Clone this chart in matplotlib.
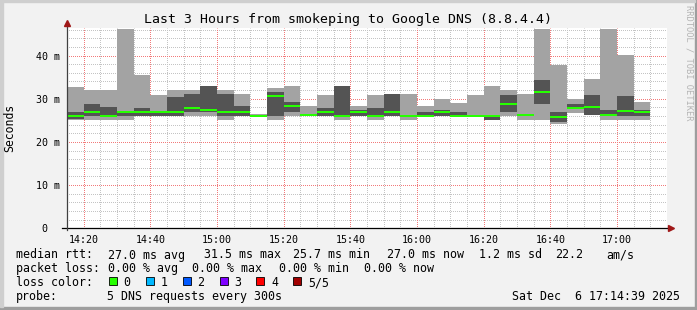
import matplotlib
matplotlib.use("Agg")
import matplotlib.pyplot as plt
from matplotlib.patches import Rectangle
import numpy as np

W, H = 697, 310

# smokeping samples, 5 pings every 5 minutes, starting 14:15 (ms)
p_min = [25.1, 25.1, 25.1, 25.1, 26.0, 26.0, 26.0, 26.0, 26.0, 25.1, 26.0, 25.7,
         25.1, 26.0, 26.0, 26.0, 25.1, 26.0, 25.1, 26.0, 25.1, 26.0, 26.0, 26.0,
         25.9, 25.0, 26.0, 25.1, 25.1, 24.1, 26.8, 26.2, 25.1, 25.1, 25.1]
p_lo = [25.3, 26.0, 25.9, 26.0, 26.0, 26.0, 26.0, 26.9, 26.9, 26.0, 26.0, 25.9,
        26.0, 26.9, 26.0, 26.0, 25.8, 26.0, 25.9, 26.0, 25.9, 26.0, 26.0, 26.0,
        25.9, 25.0, 26.9, 26.2, 28.8, 24.6, 27.6, 26.2, 26.0, 26.0, 26.0]
median = [26.0, 27.0, 26.0, 26.9, 26.9, 26.9, 26.9, 27.8, 27.3, 26.9, 26.9, 26.0,
          30.6, 28.3, 26.3, 26.9, 26.0, 26.9, 26.0, 27.0, 26.0, 26.0, 27.0, 26.0,
          26.0, 25.9, 28.8, 26.3, 31.5, 25.7, 27.9, 28.1, 26.3, 27.1, 27.0]
p_hi = [26.9, 28.8, 28.1, 27.1, 27.8, 27.1, 30.5, 31.1, 32.9, 31.1, 28.2, 26.2,
        31.5, 29.2, 26.5, 27.8, 32.9, 27.3, 27.8, 31.0, 26.2, 26.9, 27.4, 26.9,
        26.3, 26.1, 30.8, 26.5, 34.3, 26.9, 28.8, 30.8, 27.4, 30.6, 27.4]
p_max = [32.7, 32.1, 32.1, 46.1, 35.5, 30.9, 32.0, 32.0, 33.0, 32.0, 31.1, 26.4,
         32.5, 32.9, 28.2, 30.8, 33.0, 28.2, 30.8, 31.0, 31.1, 28.3, 29.9, 29.0,
         30.8, 32.9, 32.0, 31.1, 46.1, 37.9, 29.9, 34.6, 46.1, 40.1, 29.2]

time_ticks = ["14:20", "14:40", "15:00", "15:20", "15:40", "16:00", "16:20", "16:40", "17:00"]
y_ticks = [0, 10, 20, 30, 40]
y_labels = ["0  ", "10 m", "20 m", "30 m", "40 m"]

loss_labels = ["0", "1", "2", "3", "4", "5/5"]
loss_colors = ["#26ff00", "#00b8ff", "#0059ff", "#7e00ff", "#ff0000", "#a10000"]

MONO = "DejaVu Sans Mono"


def fx(px):
    return px / W


def fy(py):
    return 1 - py / H


fig = plt.figure(figsize=(W / 100, H / 100), dpi=100, facecolor="#f2f2f2")

# 3d-ish frame around the canvas
fig.patches.append(Rectangle((0, 0), 1, 3 / H, transform=fig.transFigure, color="#9e9e9e"))
fig.patches.append(Rectangle((1 - 2 / W, 0), 2 / W, 1, transform=fig.transFigure, color="#9e9e9e"))
fig.patches.append(Rectangle((0, 1 - 2 / H), 1 - 2 / W, 2 / H, transform=fig.transFigure, color="#cfcfcf"))
fig.patches.append(Rectangle((0, 3 / H), 3 / W, 1, transform=fig.transFigure, color="#cfcfcf"))

ax = fig.add_axes([fx(67), fy(228.3), 600 / W, 200 / H])
ax.set_facecolor("white")
ax.set_xlim(0, 180)
ax.set_ylim(0, 46.3)
for s in ax.spines.values():
    s.set_visible(False)

# dotted grid like rrdtool (1 px on, 1 px off)
dots = (0.5, (1, 1))
minor_x = [m for m in range(5, 180, 5) if (m - 5) % 20]
major_x = [5 + 20 * i for i in range(len(time_ticks))]
minor_y = [v for v in range(2, 47, 2) if v % 10]
grid_kw = dict(linewidth=0.72, linestyle=dots, snap=True)
for m in minor_x:
    ax.axvline(m, color="#c4c4c4", zorder=1, **grid_kw)
for v in minor_y:
    ax.axhline(v, color="#c4c4c4", zorder=1, **grid_kw)
for m in major_x:
    ax.axvline(m, color="#f27a7a", zorder=1.5, **grid_kw)
for v in y_ticks[1:]:
    ax.axhline(v, color="#f27a7a", zorder=1.5, **grid_kw)

x = np.arange(len(median)) * 5
med = np.array(median)
ax.bar(x, np.array(p_max) - np.array(p_min), bottom=p_min, width=5, align="edge",
       color="#a3a3a3", linewidth=0, zorder=2)
ax.bar(x, np.array(p_hi) - np.array(p_lo), bottom=p_lo, width=5, align="edge",
       color="#545454", linewidth=0, zorder=3)
ax.bar(x, 0.46, bottom=med - 0.23, width=5, align="edge",
       color=loss_colors[0], linewidth=0, zorder=4)

ax.set_xticks(major_x)
ax.set_xticklabels(time_ticks)
ax.set_yticks(y_ticks)
ax.set_yticklabels(y_labels)
ax.tick_params(which="both", length=0)
ax.tick_params(axis="x", pad=4.5)
ax.tick_params(axis="y", pad=5)
for lab in ax.get_xticklabels() + ax.get_yticklabels():
    lab.set_fontfamily(MONO)
    lab.set_fontsize(7.2)

# axes with arrows
ax.plot([-1.5, 181.0], [0, 0], color="black", lw=0.9, clip_on=False, zorder=6)
ax.plot([0, 0], [-0.4, 47.3], color="#404040", lw=0.9, clip_on=False, zorder=6)
ax.plot([181.2], [0], marker=">", color="#a01818", markersize=4, clip_on=False, zorder=7)
ax.plot([0], [47.5], marker="^", color="#a01818", markersize=4, clip_on=False, zorder=7)

# texts
fig.text(fx(347.5), fy(19), "Last 3 Hours from smokeping to Google DNS (8.8.4.4)",
         family=MONO, fontsize=9.5, ha="center", va="center")
fig.text(fx(10), fy(128), "Seconds", family=MONO, fontsize=8.3, rotation=90,
         ha="center", va="center")
fig.text(fx(688.5), fy(5), "RRDTOOL / TOBI OETIKER", family=MONO, fontsize=6.3,
         rotation=270, ha="center", va="top", color="#b4b4b4")

fs = 8.4
rows = [
    (258.5, [(16, "median rtt:"), (107.6, "27.0 ms avg"), (203.6, "31.5 ms max"),
             (293, "25.7 ms min"), (386.7, "27.0 ms now"), (479, "1.2 ms sd"),
             (555.6, "22.2"), (606.7, "am/s")]),
    (272.3, [(16, "packet loss:"), (107.6, "0.00 % avg"), (192, "0.00 % max"),
             (279, "0.00 % min"), (364.4, "0.00 % now")]),
    (286, [(16, "loss color:")]),
    (300, [(16, "probe:"), (107, "5 DNS requests every 300s")]),
]
for base, items in rows:
    for px, txt in items:
        fig.text(fx(px), fy(base), txt, family=MONO, fontsize=fs, ha="left", va="baseline")
fig.text(fx(680), fy(300), "Sat Dec  6 17:14:39 2025", family=MONO, fontsize=fs,
         ha="right", va="baseline")

box_x = [109, 146, 182.5, 219.5, 256.3, 293.3]
for bx, lab, col in zip(box_x, loss_labels, loss_colors):
    fig.patches.append(Rectangle((fx(bx), fy(285)), 8 / W, 8 / H, transform=fig.transFigure,
                                 facecolor=col, edgecolor="black", linewidth=0.6))
    fig.text(fx(bx + 14.7), fy(286), lab, family=MONO, fontsize=fs, ha="left", va="baseline")

fig.savefig("out.png", dpi=100, facecolor=fig.get_facecolor())
